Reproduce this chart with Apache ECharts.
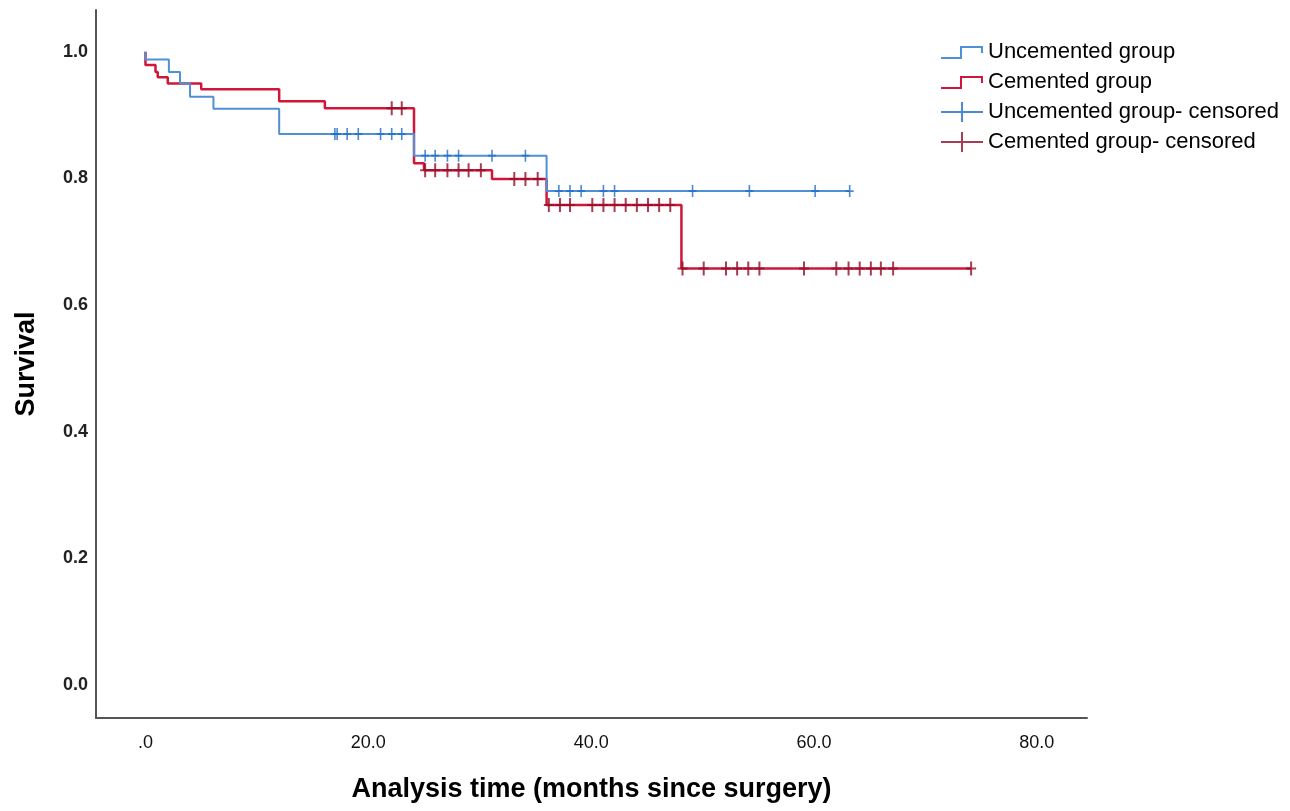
<!DOCTYPE html>
<html>
<head>
<meta charset="utf-8">
<script src="https://cdn.jsdelivr.net/npm/echarts@6/dist/echarts.min.js"></script>
<style>
html,body{margin:0;padding:0;background:#fff;}
#chart{width:1290px;height:811px;}
</style>
</head>
<body>
<div id="chart"></div>
<script>
// ---- data ----
const seriesNames = ['Uncemented group', 'Cemented group', 'Uncemented group- censored', 'Cemented group- censored'];

// Kaplan-Meier steps: time (months) and survival after that time
const uncTime = [0, 0, 2.1, 3.1, 4.0, 6.1, 12.0, 24.1, 36.0, 63.2];
const uncSurv = [1.0, 0.988, 0.968, 0.950, 0.929, 0.910, 0.870, 0.836, 0.780, 0.780];

const cemTime = [0, 0, 0.9, 1.1, 2.0, 5.0, 12.0, 16.1, 24.1, 25.0, 31.1, 36.0, 48.1, 74.1];
const cemSurv = [1.0, 0.979, 0.968, 0.960, 0.950, 0.941, 0.922, 0.911, 0.824, 0.813, 0.799, 0.758, 0.658, 0.658];

// censored times (months)
const uncCensTime = [17.0, 17.2, 18.1, 19.1, 21.1, 22.1, 23.0, 25.1, 26.0, 27.1, 28.1, 31.1, 34.1,
  37.1, 38.1, 39.1, 41.1, 42.1, 49.1, 54.2, 60.1, 63.2];
const cemCensTime = [22.1, 23.0, 25.1, 26.0, 27.1, 28.1, 29.0, 30.1, 33.1, 34.1, 35.2,
  36.2, 37.2, 38.1, 40.1, 41.1, 42.1, 43.1, 44.1, 45.1, 46.1, 47.1,
  48.2, 50.1, 52.1, 53.1, 54.1, 55.1, 59.1, 62.0, 63.1, 64.1, 65.1, 66.0, 67.1, 74.1];

// axis ticks
const xTickValues = [0, 20, 40, 60, 80];
const xTickLabels = ['.0', '20.0', '40.0', '60.0', '80.0'];
const yTickValues = [0, 0.2, 0.4, 0.6, 0.8, 1.0];
const yTickLabels = ['0.0', '0.2', '0.4', '0.6', '0.8', '1.0'];

// ---- build ----
function pairs(t, s) { return t.map((v, i) => [v, s[i]]); }
function survAt(t, times, surv) {
  let v = surv[0];
  for (let i = 0; i < times.length; i++) { if (times[i] <= t) v = surv[i]; }
  return v;
}
const uncCens = uncCensTime.map(t => [t, survAt(t, uncTime, uncSurv)]);
const cemCens = cemCensTime.map(t => [t, survAt(t, cemTime, cemSurv)]);

const FONT = '"Liberation Sans", Arial, sans-serif';
const stepIcon = 'path://M0,0h0.01v0.01h-0.01z M42,20h-0.01v-0.01h0.01z M0,15H19V4H42V11H40V6H21V17H0Z';
const crossIcon = 'path://M0,9H42V11H0Z M20,0H22V20H20Z';
const markPath = 'path://M0,6H10V8H0Z M4,0H6V14H4Z';

const C_UNC = '#4f90d6', C_CEM = '#d0173a', C_UNC_C = '#1f6ccb', C_CEM_C = '#920c27';

const chart = echarts.init(document.getElementById('chart'), null, {renderer: 'canvas'});
chart.setOption({
  animation: false,
  backgroundColor: '#fff',
  grid: {left: 96, right: 203, top: 10, bottom: 93, containLabel: false},
  legend: {
    orient: 'vertical', left: 936, top: 36, itemGap: 8,
    itemWidth: 42, itemHeight: 20,
    textStyle: {fontFamily: FONT, fontSize: 22, color: '#000'},
    data: [
      {name: seriesNames[0], icon: stepIcon},
      {name: seriesNames[1], icon: stepIcon},
      {name: seriesNames[2], icon: crossIcon},
      {name: seriesNames[3], icon: crossIcon}
    ]
  },
  xAxis: {
    type: 'value', min: -4.44, max: 84.5,
    name: 'Analysis time (months since surgery)', nameLocation: 'middle', nameGap: 58,
    nameTextStyle: {fontFamily: FONT, fontSize: 27, fontWeight: 'bold', color: '#000'},
    axisLine: {show: true, onZero: false, lineStyle: {color: '#555', width: 2}},
    axisTick: {show: false}, splitLine: {show: false},
    axisLabel: {
      customValues: xTickValues, margin: 16,
      fontFamily: FONT, fontSize: 18, color: '#111',
      formatter: v => { const i = xTickValues.indexOf(v); return i >= 0 ? xTickLabels[i] : ''; }
    }
  },
  yAxis: {
    type: 'value', min: -0.052, max: 1.066,
    name: 'Survival', nameLocation: 'middle', nameGap: 56, nameRotate: 90,
    nameTextStyle: {fontFamily: FONT, fontSize: 27, fontWeight: 'bold', color: '#000'},
    axisLine: {show: true, onZero: false, lineStyle: {color: '#555', width: 2}},
    axisTick: {show: false}, splitLine: {show: false},
    axisLabel: {
      customValues: yTickValues, margin: 8,
      fontFamily: FONT, fontSize: 18, fontWeight: 'bold', color: '#222',
      formatter: v => { const i = yTickValues.findIndex(x => Math.abs(x - v) < 1e-9); return i >= 0 ? yTickLabels[i] : ''; }
    }
  },
  series: [
    {name: seriesNames[0], type: 'line', step: 'end', data: pairs(uncTime, uncSurv),
     showSymbol: false, color: C_UNC, lineStyle: {color: C_UNC, width: 2}, z: 3},
    {name: seriesNames[1], type: 'line', step: 'end', data: pairs(cemTime, cemSurv),
     showSymbol: false, color: C_CEM, lineStyle: {color: C_CEM, width: 2.5}, z: 2},
    {name: seriesNames[2], type: 'scatter', data: uncCens, symbol: markPath,
     symbolSize: [8, 12], color: C_UNC_C, itemStyle: {color: C_UNC_C}, z: 5},
    {name: seriesNames[3], type: 'scatter', data: cemCens, symbol: markPath,
     symbolSize: [10, 14], color: C_CEM_C, itemStyle: {color: C_CEM_C}, z: 4}
  ]
});
</script>
</body>
</html>
